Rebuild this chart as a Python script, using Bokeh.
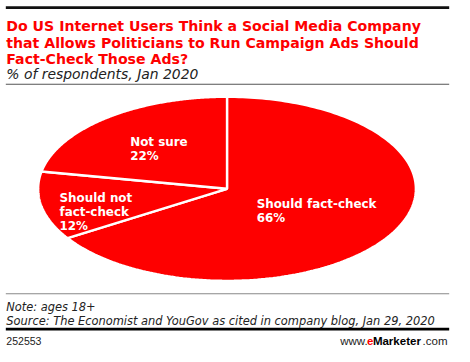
import numpy as np
from bokeh.plotting import figure
from bokeh.models import Range1d, ColumnDataSource
from bokeh.embed import file_html
from bokeh.resources import INLINE
from bokeh.core.properties import value

# ---- data ----
categories = ["Should fact-check", "Should not fact-check", "Not sure"]
label_lines = [["Should fact-check"], ["Should not", "fact-check"], ["Not sure"]]
shares = [66, 12, 22]

title_lines = [
    "Do US Internet Users Think a Social Media Company",
    "that Allows Politicians to Run Campaign Ads Should",
    "Fact-Check Those Ads?",
]
subtitle = "% of respondents, Jan 2020"
note = "Note: ages 18+"
source = "Source: The Economist and YouGov as cited in company blog, Jan 29, 2020"
chart_id = "252553"

# ---- styles / layout (coordinates in a 470x362 design space) ----
RED = "#fe0000"
TEXT = "#222222"
W, H = 454, 346           # figure size in screen px
DW, DH = 470, 362         # design space
FS = 0.96                 # font scale from design space to screen
CX, CY, RA, RB = 234.5, 197, 195.5, 96.3
label_r = [0.5, 0.7, 0.7]
label_dx = [-55, -39, -13]
label_dy = [-7.4, -2.6, 3.0]
LINE_H = 14.7
RULE_X = (5.5, 464.5)
rules = [  # (top, bottom, colour)
    (6.0, 8.8, "#111111"),
    (87.0, 88.2, "#555555"),
    (306.2, 307.4, "#888888"),
    (342.3, 345.3, "#000000"),
]


def px(v):
    return f"{v * FS:.2f}px"


p = figure(width=W, height=H, x_range=Range1d(0, DW), y_range=Range1d(DH, 0),
           output_backend="svg", toolbar_location=None, min_border=0,
           x_axis_location=None, y_axis_location=None, title=None)
p.grid.visible = False
p.outline_line_color = None
p.background_fill_color = "#ffffff"

# ---- pie slices (flattened ellipse) + horizontal rules, as polygons ----
total = float(sum(shares))
start = np.pi / 2
xs, ys, fills, lalpha, mids = [], [], [], [], []
for s in shares:
    sweep = 2 * np.pi * s / total
    th = np.linspace(start, start - sweep, 200)
    xs.append(list(np.concatenate([[CX], CX + RA * np.cos(th), [CX]])))
    ys.append(list(np.concatenate([[CY], CY - RB * np.sin(th), [CY]])))
    fills.append(RED)
    lalpha.append(1.0)
    mids.append(start - sweep / 2)
    start -= sweep
for top, bot, col in rules:
    xs.append([RULE_X[0], RULE_X[1], RULE_X[1], RULE_X[0]])
    ys.append([top, top, bot, bot])
    fills.append(col)
    lalpha.append(0.0)
p.patches(xs="xs", ys="ys", source=ColumnDataSource(dict(xs=xs, ys=ys, fc=fills, la=lalpha)),
          fill_color="fc", line_color="white", line_alpha="la", line_width=2.4)

# ---- slice labels ----
lx, ly, lt = [], [], []
for i, (lines, s) in enumerate(zip(label_lines, shares)):
    ax = CX + label_r[i] * RA * np.cos(mids[i]) + label_dx[i]
    ay = CY - label_r[i] * RB * np.sin(mids[i]) + label_dy[i]
    for j, t in enumerate(lines + [f"{s}%"]):
        lx.append(ax)
        ly.append(ay + j * LINE_H)
        lt.append(t)
p.text(x="x", y="y", text="t", source=ColumnDataSource(dict(x=lx, y=ly, t=lt)),
       text_color="white", text_font=value("DejaVu Sans"), text_font_style="bold",
       text_font_size=px(12.4), text_align="left", text_baseline="alphabetic")

# ---- header ----
p.text(x=[6] * 3, y=[26.7, 44.2, 61.7], text=title_lines, text_color=RED,
       text_font=value("DejaVu Sans"), text_font_style="bold", text_font_size=px(14.7),
       text_baseline="alphabetic", text_align="left")
p.text(x=[6], y=[76.5], text=[subtitle], text_color=TEXT,
       text_font=value("DejaVu Sans"), text_font_style="italic", text_font_size=px(14.5),
       text_baseline="alphabetic", text_align="left")

# ---- footer ----
p.text(x=[6, 6], y=[320.7, 335.8], text=[note, source], text_color=TEXT,
       text_font=value("DejaVu Sans"), text_font_style="italic", text_font_size=px(11.9),
       text_baseline="alphabetic", text_align="left")
p.text(x=[6], y=[356.7], text=[chart_id], text_color=TEXT,
       text_font=value("Liberation Sans"), text_font_size=px(11),
       text_baseline="alphabetic", text_align="left")
# www.eMarketer.com
p.text(x=[351.7], y=[356.7], text=["www."], text_color=TEXT, text_font=value("Liberation Sans"),
       text_font_size=px(12), text_baseline="alphabetic", text_align="left")
p.text(x=[379.3], y=[356.7], text=["e"], text_color=RED, text_font=value("Liberation Sans"),
       text_font_style="bold", text_font_size=px(12), text_baseline="alphabetic", text_align="left")
p.text(x=[385.5], y=[356.7], text=["Marketer"], text_color="#000000", text_font=value("Liberation Sans"),
       text_font_style="bold", text_font_size=px(12), text_baseline="alphabetic", text_align="left")
p.text(x=[437], y=[356.7], text=[".com"], text_color=TEXT, text_font=value("Liberation Sans"),
       text_font_size=px(12), text_baseline="alphabetic", text_align="left")

open("out.html", "w").write(file_html(p, INLINE))
